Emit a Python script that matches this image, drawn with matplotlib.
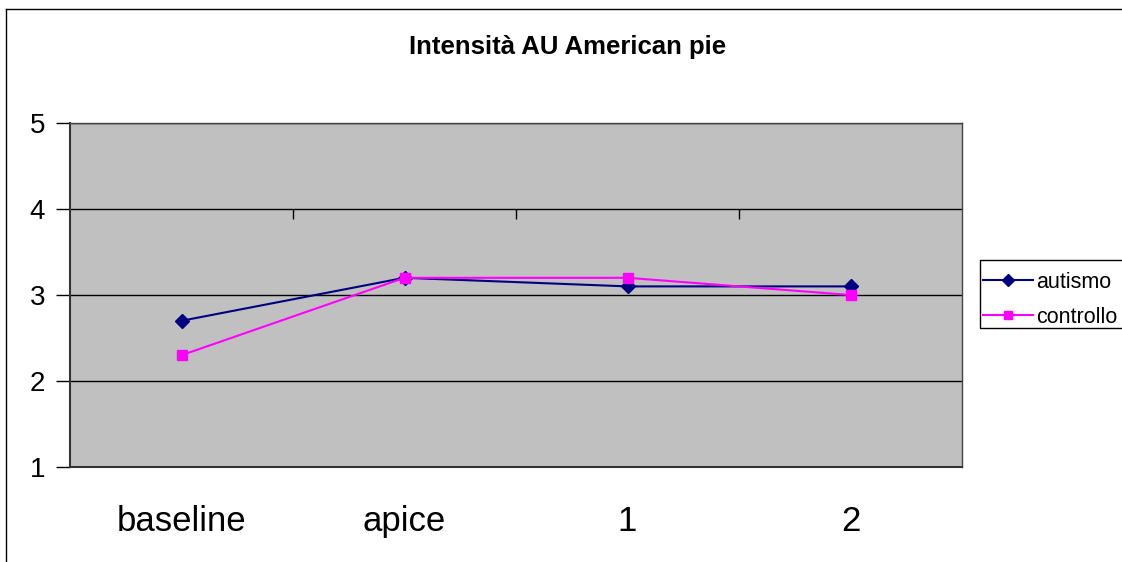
import matplotlib
matplotlib.use("Agg")
import matplotlib.pyplot as plt
from matplotlib.lines import Line2D
from matplotlib.patches import Rectangle

plt.rcParams['font.family'] = ['Liberation Sans', 'DejaVu Sans']

categories = ["baseline", "apice", "1", "2"]
autismo = [2.7, 3.2, 3.1, 3.1]
controllo = [2.3, 3.2, 3.2, 3.0]
y_ticks = [1, 2, 3, 4, 5]
title = "Intensità AU American pie"

W, H = 1122, 562
fig = plt.figure(figsize=(W / 100, H / 100), dpi=100)

# outer chart frame (left and top edges visible)
fig.add_artist(Line2D([6 / W, 6 / W], [0, 1 - 9 / H], color="black", lw=1.0,
                      transform=fig.transFigure))
fig.add_artist(Line2D([6 / W, 1], [1 - 9 / H, 1 - 9 / H], color="black", lw=1.0,
                      transform=fig.transFigure))

left, right, top, bottom = 70, 962, 123, 467
ax = fig.add_axes([left / W, 1 - bottom / H, (right - left) / W, (bottom - top) / H])
ax.set_facecolor("#C0C0C0")

x = list(range(len(categories)))
ax.plot(x, autismo, color="#000080", lw=1.5, marker="D", markersize=7.5,
        label="autismo", zorder=3)
ax.plot(x, controllo, color="#FF00FF", lw=1.5, marker="s", markersize=7.5,
        label="controllo", zorder=4)

ax.set_xlim(-0.5, len(categories) - 0.5)
ax.set_ylim(1, 5)
ax.set_yticks(y_ticks)
ax.yaxis.grid(True, color="black", lw=1.0)
ax.set_axisbelow(True)
ax.tick_params(axis="y", length=10, width=1, labelsize=20, pad=8, color="black")

ax.set_xticks(x)
ax.set_xticklabels(categories)
ax.tick_params(axis="x", length=0, labelsize=25, pad=27.5)

# category axis crossing at 4 with tick marks between categories
ax.vlines([i + 0.5 for i in x[:-1]], 4 - 10 / 86, 4, color="black", lw=1.0)

for side in ["left", "bottom"]:
    ax.spines[side].set_color("#333333")
    ax.spines[side].set_linewidth(1.5)
for side in ["right", "top"]:
    ax.spines[side].set_color("#444444")
    ax.spines[side].set_linewidth(1.0)

fig.text(568 / W, 1 - 47 / H, title, ha="center", va="center",
         fontsize=18.5, fontweight="bold")

# legend entries, with a separate box that runs off the right edge
leg = ax.legend(loc="upper left", bbox_to_anchor=(983 / W, 1 - 272 / H),
                bbox_transform=fig.transFigure, fontsize=15.5, frameon=False,
                borderpad=0, handlelength=2.3, handletextpad=0.15,
                labelspacing=0.65, borderaxespad=0, markerscale=0.85)
fig.add_artist(Rectangle((980 / W, 1 - 328 / H), (W - 980 + 20) / W, 68 / H,
                         transform=fig.transFigure, fill=False,
                         edgecolor="black", lw=1.0))

fig.savefig("out.png", dpi=100)
